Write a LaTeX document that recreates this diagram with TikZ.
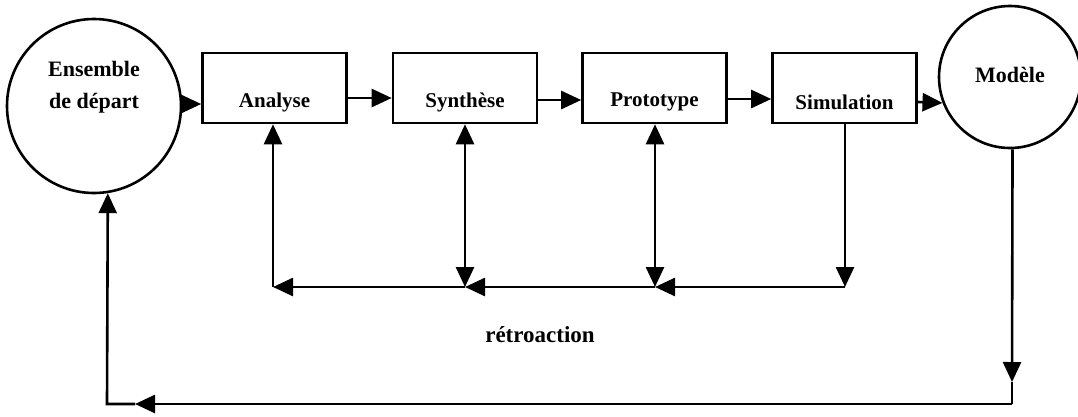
\documentclass[tikz,border=0pt]{standalone}
\usepackage{fontspec}
\setmainfont{Liberation Serif}
\usetikzlibrary{arrows.meta,calc}

\tikzset{
  wire/.style={line width=2.6pt},
  tip/.tip={Triangle[length=20pt,width=18pt]},
  arr/.style={wire,-tip},
  darr/.style={wire,tip-tip},
  stage/.style={draw,line width=2.6pt,rectangle,minimum width=144pt,minimum height=70pt,inner sep=0pt},
  endpoint/.style={draw,line width=2.6pt,circle,inner sep=0pt},
  stagetext/.style={font=\bfseries\fontsize{21}{23}\selectfont,inner sep=0pt},
}

\begin{document}
\begin{tikzpicture}[x=1pt,y=-1pt]
  \useasboundingbox (0,0) rectangle (1078,416);
  \clip (0,0) rectangle (1078,416);

  % start and end sets
  \node[endpoint,minimum size=174pt] (ens) at (94,106) {};
  \node[font=\bfseries\fontsize{22}{32}\selectfont,align=center,inner sep=0pt] (enstext) at (94,87) {Ensemble\\de départ};
  \node[endpoint,minimum size=142pt] (mod) at (1010,77) {};
  \node[font=\bfseries\fontsize{22}{24}\selectfont,inner sep=0pt] (modtext) at (1010,75) {Modèle};

  % process stages
  \node[stage] (ana) at (274.5,88) {};
  \node[stage] (syn) at (465,88) {};
  \node[stage] (pro) at (654.5,88) {};
  \node[stage] (sim) at (844.5,88) {};
  \node[stagetext] (anatext) at (274.5,102) {Analyse};
  \node[stagetext] (syntext) at (465,102) {Synthèse};
  \node[stagetext] (protext) at (654.5,102) {Prototype};
  \node[stagetext] (simtext) at (844.5,102) {Simulation};

  % forward chain
  \draw[arr] ([yshift=2pt]ens.east) -- ([yshift=-16pt]ana.west);
  \draw[arr] ([yshift=-10pt]ana.east) -- ([yshift=-10pt]syn.west);
  \draw[arr] ([yshift=-12pt]syn.east) -- ([yshift=-12pt]pro.west);
  \draw[arr] ([yshift=-11pt]pro.east) -- ([yshift=-11pt]sim.west);
  \draw[arr] ([yshift=-14pt]sim.east) -- (mod.201);

  % inner feedback bus
  \coordinate (fa) at (273,287);
  \coordinate (fs) at (465,287);
  \coordinate (fp) at (655,287);
  \coordinate (fm) at (845,287);
  \draw[arr] (fm |- sim.south) -- (fm);
  \draw[darr] (fs |- syn.south) -- (fs);
  \draw[darr] (fp |- pro.south) -- (fp);
  \draw[arr] (fm) -- (fp);
  \draw[arr] (fp) -- (fs);
  \draw[arr] (fs) -- (fa);
  \draw[arr] (fa) -- (fa |- ana.south);

  \node[font=\bfseries\fontsize{23}{25}\selectfont,inner sep=0pt] (retro) at (540,335) {rétroaction};

  % outer loop back to the start set
  \coordinate (o1) at (1012,382);
  \coordinate (o2) at (1012,404);
  \coordinate (o3) at (135,404);
  \coordinate (o4) at (107,404);
  \draw[arr] (mod.-88) -- (o1);
  \draw[wire] (o1) -- (o2);
  \draw[arr] (o2) -- (o3);
  \draw[arr] (o3) -- (o4) -- (ens.-81);
\end{tikzpicture}
\end{document}
